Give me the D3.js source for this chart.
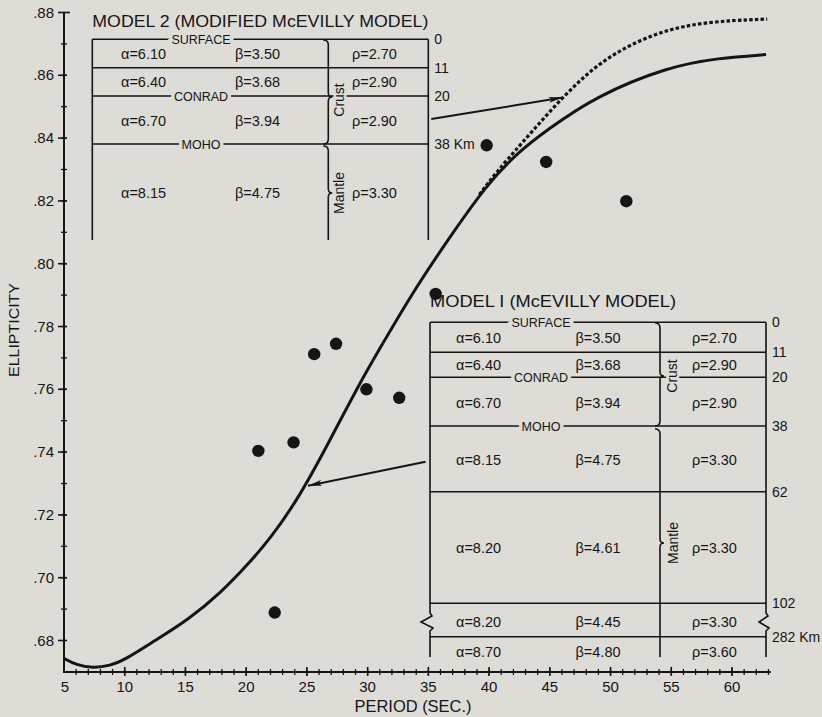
<!DOCTYPE html>
<html>
  <head>
    <title>Ellipticity vs period</title>
    <script src="https://cdn.jsdelivr.net/npm/d3@7/dist/d3.min.js"></script>
    <style>
      body { margin: 0; background: #dddcd7; }
      svg { display: block; background: #dddcd7; }
      text { font-family: "Liberation Sans", Arial, sans-serif; fill: #151515; }
    </style>
  </head>
  <body>
    <svg width="822" height="717"></svg>
    <script>
      // observed ellipticity
      const obsPeriod = [21.0, 22.35, 23.9, 25.6, 27.4, 29.9, 32.6, 35.6, 39.8, 44.7, 51.3];
      const obsEllip  = [.7404, .6889, .7431, .7712, .7745, .7600, .7573, .7904, .8377, .8324, .8199];

      // model 1 (solid)
      const m1Period = [5, 6, 7.4, 8.8, 10, 12.5, 15.2, 18, 20.2, 22, 24.4, 27, 29.1, 31, 33.7, 36.5, 39.8, 42.3, 44.7, 48.8, 54.8, 58.9, 62.8];
      const m1Ellip  = [.6743, .6722, .6712, .6720, .6738, .6800, .6865, .6955, .7045, .7125, .7258, .7445, .7602, .7730, .7908, .8070, .8252, .8352, .8424, .8534, .8628, .8655, .8666];

      // model 2 (dotted), branches off model 1 near 40 s
      const m2Period = [39.2, 40.6, 42.5, 46, 49.35, 53.5, 57.6, 62.9];
      const m2Ellip  = [.8220, .8292, .8375, .8530, .8652, .8734, .8771, .8779];

      const yTicks = [.68, .70, .72, .74, .76, .78, .80, .82, .84, .86, .88];
      const xTicks = [5, 10, 15, 20, 25, 30, 35, 40, 45, 50, 55, 60];

      // layer tables
      const depths2 = ["0", "11", "20", "38 Km"];
      const alpha2 = ["6.10", "6.40", "6.70", "8.15"];
      const beta2  = ["3.50", "3.68", "3.94", "4.75"];
      const rho2   = ["2.70", "2.90", "2.90", "3.30"];

      const depths1 = ["0", "11", "20", "38", "62", "102", "282 Km"];
      const alpha1 = ["6.10", "6.40", "6.70", "8.15", "8.20", "8.20", "8.70"];
      const beta1  = ["3.50", "3.68", "3.94", "4.75", "4.61", "4.45", "4.80"];
      const rho1   = ["2.70", "2.90", "2.90", "3.30", "3.30", "3.30", "3.60"];

      const boundaryNames = {"0": "SURFACE", "20": "CONRAD", "38": "MOHO"};

      const bg = "#dddcd7";
      const ink = "#151515";

      const svg = d3.select("svg");

      const x = d3.scaleLinear().domain([5, 60]).range([64, 732]);
      const y = d3.scaleLinear().domain([.68, .88]).range([640.5, 12.5]);
      const xEnd = 63.2, yBottom = .67;

      // axes
      const axes = svg.append("g").attr("stroke", ink);
      axes.append("line")
        .attr("x1", x(5)).attr("x2", x(5))
        .attr("y1", y(.88)).attr("y2", y(yBottom))
        .attr("stroke-width", 2);
      axes.append("line")
        .attr("x1", x(5) - 1).attr("x2", x(xEnd))
        .attr("y1", y(yBottom)).attr("y2", y(yBottom))
        .attr("stroke-width", 2);

      const yMinor = d3.range(69, 88).map(v => v / 100);
      axes.selectAll(".ymin").data(yMinor).enter().append("line")
        .attr("x1", x(5) - 3).attr("x2", x(5) + 3)
        .attr("y1", d => y(d)).attr("y2", d => y(d))
        .attr("stroke-width", 1.3);
      axes.selectAll(".ymaj").data(yTicks).enter().append("line")
        .attr("x1", x(5) - 6).attr("x2", d => d === .88 ? x(5) + 6 : x(5) + 3)
        .attr("y1", d => y(d)).attr("y2", d => y(d))
        .attr("stroke-width", 1.6);

      const xMinor = d3.range(6, 64);
      axes.selectAll(".xmin").data(xMinor).enter().append("line")
        .attr("x1", d => x(d)).attr("x2", d => x(d))
        .attr("y1", y(yBottom) - 3).attr("y2", y(yBottom) + 3)
        .attr("stroke-width", 1.3);
      axes.selectAll(".xmaj").data(xTicks.slice(1)).enter().append("line")
        .attr("x1", d => x(d)).attr("x2", d => x(d))
        .attr("y1", y(yBottom) - 5).attr("y2", y(yBottom) + 4)
        .attr("stroke-width", 1.6);

      const fmtY = d => d3.format(".2f")(d).replace(/^0/, "");
      svg.selectAll(".ylab").data(yTicks).enter().append("text")
        .attr("x", 54).attr("y", d => y(d) + 5)
        .attr("text-anchor", "end")
        .attr("font-size", 15)
        .text(fmtY);
      svg.selectAll(".xlab").data(xTicks).enter().append("text")
        .attr("x", d => x(d) + (d === 5 ? 1 : 0)).attr("y", 692)
        .attr("text-anchor", "middle")
        .attr("font-size", 15)
        .text(d => d);

      svg.append("text")
        .attr("transform", "translate(19,330) rotate(-90)")
        .attr("text-anchor", "middle")
        .attr("font-size", 15)
        .attr("textLength", 94).attr("lengthAdjust", "spacingAndGlyphs")
        .text("ELLIPTICITY");
      svg.append("text")
        .attr("x", 413).attr("y", 712)
        .attr("text-anchor", "middle")
        .attr("font-size", 17)
        .attr("textLength", 117).attr("lengthAdjust", "spacingAndGlyphs")
        .text("PERIOD (SEC.)");

      // curves
      const line = d3.line()
        .x(d => x(d[0])).y(d => y(d[1]))
        .curve(d3.curveBasis);

      svg.append("path")
        .datum(m2Period.map((p, i) => [p, m2Ellip[i]]))
        .attr("d", line)
        .attr("fill", "none").attr("stroke", ink)
        .attr("stroke-width", 3.2)
        .attr("stroke-dasharray", "3.5,2.2");
      svg.append("path")
        .datum(m1Period.map((p, i) => [p, m1Ellip[i]]))
        .attr("d", line)
        .attr("fill", "none").attr("stroke", ink)
        .attr("stroke-width", 3);

      svg.selectAll(".obs").data(obsPeriod).enter().append("circle")
        .attr("cx", d => x(d))
        .attr("cy", (d, i) => y(obsEllip[i]))
        .attr("r", 6.2)
        .attr("fill", ink);

      // arrows pointing from tables to curves
      svg.append("defs").append("marker")
        .attr("id", "head")
        .attr("viewBox", "0 0 14 6")
        .attr("refX", 14).attr("refY", 3)
        .attr("markerWidth", 14).attr("markerHeight", 6)
        .attr("markerUnits", "userSpaceOnUse")
        .attr("orient", "auto")
        .append("path")
        .attr("d", "M0,0 L14,3 L0,6 L3,3 Z")
        .attr("fill", ink);

      const arrows = [
        [[35.24, .8461], [46.06, .8529]],
        [[34.77, .7369], [25.09, .7293]]
      ];
      svg.selectAll(".arrow").data(arrows).enter().append("line")
        .attr("x1", d => x(d[0][0])).attr("y1", d => y(d[0][1]))
        .attr("x2", d => x(d[1][0])).attr("y2", d => y(d[1][1]))
        .attr("stroke", ink).attr("stroke-width", 2)
        .attr("marker-end", "url(#head)");

      // layer model tables
      function brace(xm, y0, tip, y1, curlBottom) {
        let p = `M${xm - 5},${y0} Q${xm},${y0} ${xm},${y0 + 5} L${xm},${tip - 4} Q${xm},${tip} ${xm + 4},${tip} Q${xm},${tip} ${xm},${tip + 4}`;
        if (curlBottom) p += ` L${xm},${y1 - 5} Q${xm},${y1} ${xm - 5},${y1}`;
        else p += ` L${xm},${y1}`;
        return p;
      }

      function drawModel(cfg) {
        const g = svg.append("g");
        g.append("text")
          .attr("x", cfg.left).attr("y", cfg.titleY)
          .attr("font-size", 16)
          .attr("textLength", cfg.titleLen).attr("lengthAdjust", "spacingAndGlyphs")
          .text(cfg.title);

        const lines = g.append("g").attr("stroke", ink).attr("stroke-width", 1.6).attr("fill", "none");
        cfg.bounds.forEach(b => {
          lines.append("line")
            .attr("x1", cfg.left).attr("x2", cfg.right)
            .attr("y1", b).attr("y2", b);
        });
        // outer verticals, with break marks where the depth scale is cut
        [cfg.left, cfg.right].forEach((vx, k) => {
          if (cfg.cut) {
            const [c0, c1] = cfg.cut;
            const tipX = k === 0 ? vx - 9 : vx - 7;
            lines.append("path").attr("d",
              `M${vx},${cfg.bounds[0]} L${vx},${c0} L${vx + 2},${c0 + 3} L${tipX},${(c0 + c1) / 2} L${vx + 3},${c1 - 3} L${vx},${c1} L${vx},${cfg.bottom}`);
          } else {
            lines.append("line")
              .attr("x1", vx).attr("x2", vx)
              .attr("y1", cfg.bounds[0]).attr("y2", cfg.bottom);
          }
        });
        lines.append("path").attr("d", brace(cfg.mid, cfg.crust[0], cfg.crust[1], cfg.crust[2], true));
        lines.append("path").attr("d", brace(cfg.mid, cfg.mantle[0], cfg.mantle[1], cfg.mantle[2], false));

        // boundary names knocked out of the lines
        cfg.depths.forEach((d, i) => {
          const name = boundaryNames[d.replace(" Km", "")];
          if (!name) return;
          g.append("text")
            .attr("x", cfg.nameX).attr("y", cfg.bounds[i] + 4.5)
            .attr("text-anchor", "middle")
            .attr("font-size", 12.5)
            .attr("stroke", bg).attr("stroke-width", 7)
            .attr("paint-order", "stroke")
            .text(name);
        });
        cfg.depths.forEach((d, i) => {
          g.append("text")
            .attr("x", cfg.right + 6).attr("y", cfg.bounds[i] + 5)
            .attr("font-size", 14)
            .text(d);
        });

        const rows = g.selectAll(".row").data(cfg.alpha).enter().append("g")
          .attr("font-size", 14.5);
        rows.append("text").attr("x", cfg.ax).attr("y", (d, i) => cfg.rowY[i] + 5)
          .text(d => "α=" + d);
        rows.append("text").attr("x", cfg.bx).attr("y", (d, i) => cfg.rowY[i] + 5)
          .text((d, i) => "β=" + cfg.beta[i]);
        rows.append("text").attr("x", cfg.rx).attr("y", (d, i) => cfg.rowY[i] + 5)
          .text((d, i) => "ρ=" + cfg.rho[i]);

        [["Crust", cfg.crustLabel], ["Mantle", cfg.mantleLabel]].forEach(([t, p]) => {
          g.append("text")
            .attr("transform", `translate(${p[0]},${p[1]}) rotate(-90)`)
            .attr("text-anchor", "middle")
            .attr("font-size", 14)
            .attr("stroke", bg).attr("stroke-width", 5)
            .attr("paint-order", "stroke")
            .text(t);
        });
      }

      drawModel({
        title: "MODEL 2 (MODIFIED McEVILLY MODEL)", titleY: 27, titleLen: 336,
        left: 92.3, mid: 328.3, right: 428.3, bottom: 240,
        bounds: [39.3, 67.7, 96, 144],
        nameX: 201, depths: depths2,
        alpha: alpha2, beta: beta2, rho: rho2,
        ax: 121, bx: 235, rx: 352,
        rowY: [54, 82, 121, 193],
        crust: [40, 97, 144], mantle: [146, 193, 240],
        crustLabel: [344, 100], mantleLabel: [344, 193]
      });

      drawModel({
        title: "MODEL I (McEVILLY MODEL)", titleY: 307, titleLen: 246,
        left: 430, mid: 660, right: 766, bottom: 657,
        bounds: [322.3, 352.3, 377.3, 426, 491.7, 603.3, 636.7],
        nameX: 541, depths: depths1,
        alpha: alpha1, beta: beta1, rho: rho1,
        ax: 456, bx: 575.5, rx: 692,
        rowY: [338, 365, 403, 460, 548, 621.5, 651.5],
        crust: [323, 376, 426], mantle: [429, 543, 657],
        crustLabel: [677, 376], mantleLabel: [678, 543],
        cut: [613, 631]
      });
    </script>
  </body>
</html>
